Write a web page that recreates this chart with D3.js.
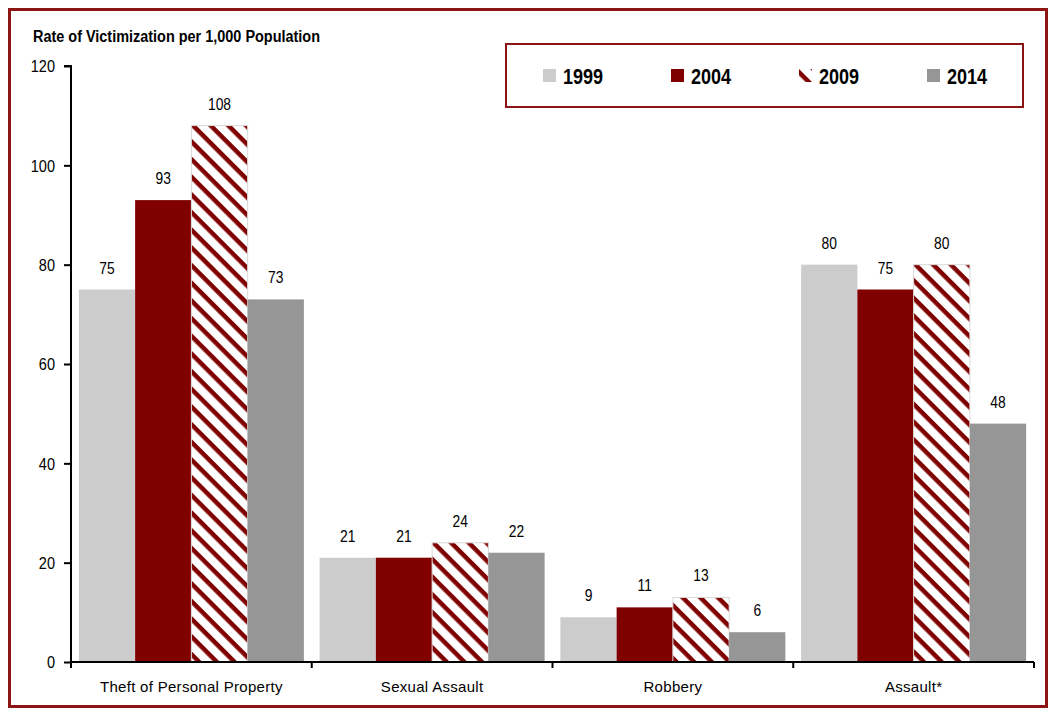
<!DOCTYPE html>
<html>
<head>
<meta charset="utf-8">
<script src="https://cdn.jsdelivr.net/npm/d3@7"></script>
<style>
  body { margin: 0; background: #fff; }
  svg text { fill: #000; }
</style>
</head>
<body>
<div id="chart"></div>
<script>
const categories = ["Theft of Personal Property", "Sexual Assault", "Robbery", "Assault*"];
const years = ["1999", "2004", "2009", "2014"];
const values1999 = [75, 21, 9, 80];
const values2004 = [93, 21, 11, 75];
const values2009 = [108, 24, 13, 80];
const values2014 = [73, 22, 6, 48];
const yTicks = [0, 20, 40, 60, 80, 100, 120];

(function(){
  const width = 1055, height = 716;
  const margin = { top: 66, right: 21, bottom: 54, left: 71 };
  const font = "'Liberation Sans', Arial, sans-serif";
  const fills = ["#cccccc", "#800000", "url(#hatch)", "#969696"];
  const series = [values1999, values2004, values2009, values2014];

  // no narrow font available, so squeeze text horizontally
  const squeeze = (sx) => function(d) {
    const el = d3.select(this);
    const x = +el.attr("data-x"), y = +el.attr("data-y");
    el.attr("transform", `translate(${x},${y}) scale(${sx},1)`);
  };

  const svg = d3.select("#chart")
    .append("svg")
    .attr("width", width)
    .attr("height", height)
    .attr("font-family", font);

  const defs = svg.append("defs");
  const pat = defs.append("pattern")
    .attr("id", "hatch")
    .attr("patternUnits", "userSpaceOnUse")
    .attr("width", 12.5)
    .attr("height", 12.5)
    .attr("patternTransform", "rotate(45)");
  pat.append("rect").attr("width", 12.5).attr("height", 12.5).attr("fill", "#fff");
  pat.append("rect").attr("width", 12.5).attr("height", 4.5).attr("fill", "#800000");

  // outer frame
  svg.append("rect")
    .attr("x", 9.5).attr("y", 9.5)
    .attr("width", 1037).attr("height", 697)
    .attr("fill", "none")
    .attr("stroke", "#8b1414")
    .attr("stroke-width", 3);

  const y = d3.scaleLinear()
    .domain([0, 120])
    .range([height - margin.bottom, margin.top]);

  const x0 = d3.scaleBand()
    .domain(categories)
    .range([margin.left, width - margin.right]);

  const x1 = d3.scaleBand()
    .domain(years)
    .range([0, x0.bandwidth()])
    .paddingOuter(0.14)
    .paddingInner(0);

  const rows = [];
  categories.forEach((c, ci) => {
    years.forEach((yr, yi) => {
      rows.push({ cat: c, year: yr, yi: yi, value: series[yi][ci] });
    });
  });

  svg.append("g")
    .selectAll("rect")
    .data(rows)
    .join("rect")
    .attr("x", d => x0(d.cat) + x1(d.year))
    .attr("y", d => y(d.value))
    .attr("width", x1.bandwidth())
    .attr("height", d => y(0) - y(d.value))
    .attr("fill", d => fills[d.yi])
    .attr("stroke", d => d.yi === 2 ? "#d9d9d9" : "none")
    .attr("stroke-width", 1);

  svg.append("g")
    .selectAll("text")
    .data(rows)
    .join("text")
    .attr("data-x", d => x0(d.cat) + x1(d.year) + x1.bandwidth() / 2)
    .attr("data-y", d => y(d.value) - 16)
    .attr("text-anchor", "middle")
    .attr("font-size", "16.5px")
    .text(d => d.value)
    .each(squeeze(0.84));

  // y axis
  const yAxis = svg.append("g")
    .attr("transform", `translate(${margin.left},0)`)
    .call(d3.axisLeft(y).tickValues(yTicks).tickSize(7).tickPadding(7));
  yAxis.selectAll("path, line").attr("stroke", "#000").attr("stroke-width", 2);
  yAxis.select(".domain").attr("d", `M-7,${y(120)}H0V${y(0)}`);
  yAxis.selectAll(".tick text")
    .attr("font-family", font)
    .attr("font-size", "16.5px")
    .attr("fill", "#000")
    .attr("dy", "0.35em")
    .each(function() {
      d3.select(this).attr("data-x", -16).attr("data-y", 0).attr("x", null);
    })
    .each(squeeze(0.88));

  // x axis
  const xAxis = svg.append("g")
    .attr("transform", `translate(0,${y(0)})`);
  xAxis.append("line")
    .attr("x1", margin.left).attr("x2", width - margin.right)
    .attr("stroke", "#000").attr("stroke-width", 2);
  const bounds = categories.map(c => x0(c)).concat([x0(categories[categories.length - 1]) + x0.bandwidth()]);
  xAxis.selectAll(".tk")
    .data(bounds)
    .join("line")
    .attr("class", "tk")
    .attr("x1", d => d).attr("x2", d => d)
    .attr("y1", 0).attr("y2", 6)
    .attr("stroke", "#000").attr("stroke-width", 2);
  xAxis.selectAll(".lbl")
    .data(categories)
    .join("text")
    .attr("class", "lbl")
    .attr("x", d => x0(d) + x0.bandwidth() / 2)
    .attr("y", 30)
    .attr("text-anchor", "middle")
    .attr("font-size", "15px")
    .attr("letter-spacing", "0.3px")
    .text(d => d);

  // title
  svg.append("text")
    .attr("data-x", 33).attr("data-y", 42)
    .attr("font-weight", "bold")
    .attr("font-size", "17px")
    .text("Rate of Victimization per 1,000 Population")
    .each(squeeze(0.85));

  // legend
  const lg = svg.append("g");
  lg.append("rect")
    .attr("x", 506).attr("y", 44)
    .attr("width", 517).attr("height", 63)
    .attr("fill", "#fff")
    .attr("stroke", "#8b1414")
    .attr("stroke-width", 2);
  const legendX = d3.scalePoint().domain(years).range([543, 927]);
  const items = lg.selectAll(".it")
    .data(years)
    .join("g")
    .attr("class", "it")
    .attr("transform", d => `translate(${legendX(d)},69)`);
  items.append("rect")
    .attr("width", 13).attr("height", 13)
    .attr("fill", (d, i) => fills[i]);
  items.append("text")
    .attr("data-x", 20).attr("data-y", 14.5)
    .attr("font-weight", "bold")
    .attr("font-size", "22px")
    .text(d => d)
    .each(squeeze(0.82));
})();
</script>
</body>
</html>
